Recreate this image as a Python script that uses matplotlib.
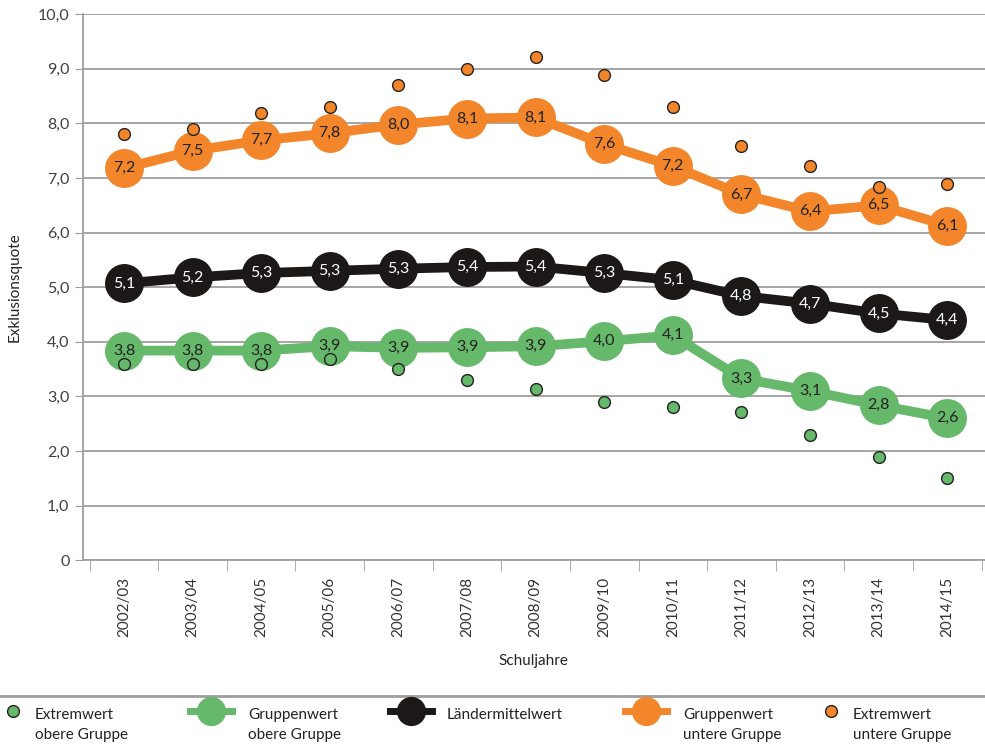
import matplotlib
matplotlib.use('Agg')
import matplotlib.pyplot as plt
import numpy as np
from matplotlib.lines import Line2D

plt.rcParams['font.family'] = ['Lato', 'DejaVu Sans']

years = ['2002/03', '2003/04', '2004/05', '2005/06', '2006/07', '2007/08', '2008/09',
         '2009/10', '2010/11', '2011/12', '2012/13', '2013/14', '2014/15']
ext_upper = [3.6, 3.6, 3.6, 3.68, 3.5, 3.3, 3.13, 2.9, 2.8, 2.71, 2.29, 1.9, 1.5]
grp_upper = [3.84, 3.84, 3.84, 3.92, 3.89, 3.9, 3.92, 4.01, 4.12, 3.33, 3.1, 2.84, 2.6]
mean_all = [5.07, 5.18, 5.26, 5.3, 5.34, 5.37, 5.38, 5.26, 5.13, 4.84, 4.7, 4.52, 4.4]
grp_lower = [7.18, 7.5, 7.69, 7.82, 7.98, 8.09, 8.11, 7.62, 7.22, 6.7, 6.39, 6.5, 6.13]
ext_lower = [7.8, 7.89, 8.2, 8.3, 8.7, 9.0, 9.21, 8.89, 8.31, 7.58, 7.22, 6.83, 6.9]

orange = '#F3862B'
green = '#66B86B'
black = '#1C1818'
grey = '#9E9E9E'

fig = plt.figure(figsize=(9.85, 7.5), dpi=100)
ax = fig.add_axes([0.084, 0.253, 0.916, 0.728])

x = np.arange(len(years))

ax.plot(x, grp_lower, color=orange, lw=7, marker='o', ms=27, zorder=3)
ax.plot(x, mean_all, color=black, lw=7, marker='o', ms=27, zorder=3)
ax.plot(x, grp_upper, color=green, lw=7, marker='o', ms=27, zorder=3)
ax.plot(x, ext_lower, ls='none', marker='o', ms=8.5, mfc=orange, mec='#222222', mew=1, zorder=4)
ax.plot(x, ext_upper, ls='none', marker='o', ms=8.5, mfc=green, mec='#222222', mew=1, zorder=4)

def fmt(v):
    return ('%.1f' % v).replace('.', ',')

for xi, v in zip(x, grp_lower):
    ax.text(xi, v, fmt(v), ha='center', va='center', fontsize=11.5, color='#222222', zorder=5)
for xi, v in zip(x, mean_all):
    ax.text(xi, v, fmt(v), ha='center', va='center', fontsize=11.5, color='white', zorder=5)
for xi, v in zip(x, grp_upper):
    ax.text(xi, v, fmt(v), ha='center', va='center', fontsize=11.5, color='#222222', zorder=5)

ax.set_xlim(-0.6, len(years) - 0.45)
ax.set_ylim(0, 10)
ax.set_yticks(np.arange(0, 11, 1))
ax.set_yticklabels(['0'] + [fmt(v) for v in range(1, 11)])
ax.set_xticks(x)
ax.set_xticklabels(years, rotation=90, fontsize=11, color='#333333')
ax.set_xticks(np.arange(-0.5, len(years), 1), minor=True)
ax.tick_params(axis='x', which='major', length=0, pad=12)
ax.tick_params(axis='x', which='minor', length=8, color=grey)
ax.tick_params(axis='y', length=6, color=grey, labelsize=11.5, labelcolor='#404040')

ax.grid(axis='y', color=grey, lw=1.3)
ax.set_axisbelow(True)
for s in ['top', 'right']:
    ax.spines[s].set_visible(False)
for s in ['left', 'bottom']:
    ax.spines[s].set_color(grey)
    ax.spines[s].set_linewidth(1.3)

ax.set_ylabel('Exklusionsquote', fontsize=11, color='#222222', labelpad=12)
ax.set_xlabel('Schuljahre', fontsize=11, color='#222222', labelpad=12)

fig.add_artist(Line2D([0, 1], [0.072, 0.072], transform=fig.transFigure, color=grey, lw=2))

# legend: handle-only legends plus left-aligned two-line labels,
# handles line up with the first text line like in the original
leg_items = [
    (Line2D([], [], ls='none', marker='o', ms=8.5, mfc=green, mec='#222222'),
     'Extremwert\nobere Gruppe', 4, 1.2, 35),
    (Line2D([], [], color=green, lw=5, marker='o', ms=20),
     'Gruppenwert\nobere Gruppe', 190, 2.75, 248),
    (Line2D([], [], color=black, lw=5, marker='o', ms=20),
     'Ländermittelwert', 390, 2.75, 447),
    (Line2D([], [], color=orange, lw=5, marker='o', ms=20),
     'Gruppenwert\nuntere Gruppe', 625, 2.75, 683),
    (Line2D([], [], ls='none', marker='o', ms=8.5, mfc=orange, mec='#222222'),
     'Extremwert\nuntere Gruppe', 822, 1.2, 853),
]
for h, lab, px, hl, tx in leg_items:
    fig.legend([h], [''], loc='center left', bbox_to_anchor=(px / 985, 1 - 712 / 750),
               frameon=False, fontsize=11, handlelength=hl, handletextpad=0,
               borderpad=0, borderaxespad=0)
    fig.text(tx / 985, 1 - 708 / 750, lab, ha='left', va='top', fontsize=11,
             color='#222222', linespacing=1.5)

fig.savefig('out.png', dpi=100)
